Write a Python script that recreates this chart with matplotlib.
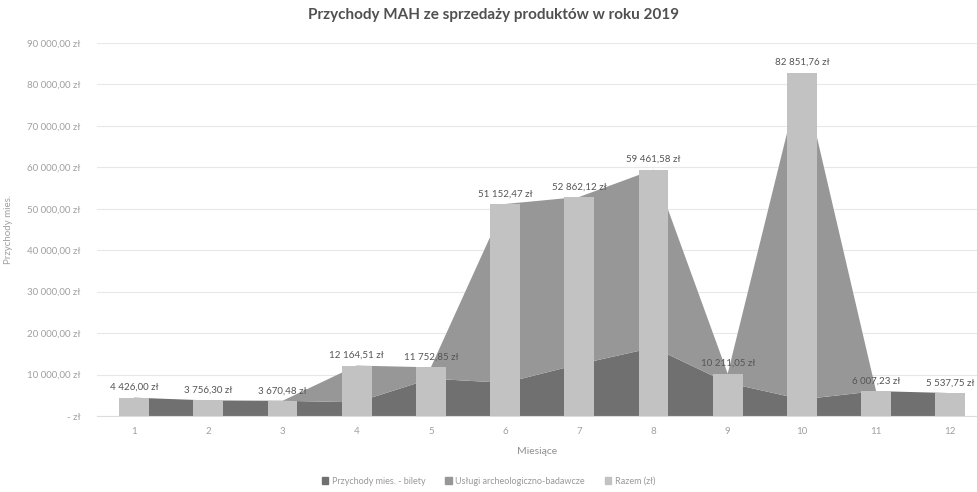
import matplotlib
matplotlib.use('Agg')
import matplotlib.pyplot as plt
import numpy as np

miesiace = [1, 2, 3, 4, 5, 6, 7, 8, 9, 10, 11, 12]
razem = [4426.00, 3756.30, 3670.48, 12164.51, 11752.85, 51152.47,
         52862.12, 59461.58, 10211.05, 82851.76, 6007.23, 5537.75]
bilety = [4426.00, 3756.30, 3670.48, 3300.00, 9000.00, 8000.00,
          12500.00, 16500.00, 8000.00, 4000.00, 6007.23, 5537.75]
uslugi = [r - b for r, b in zip(razem, bilety)]
y_ticks = [0, 10000, 20000, 30000, 40000, 50000, 60000, 70000, 80000, 90000]

plt.rcParams['font.family'] = ['Lato', 'DejaVu Sans']


def zl(v):
    if v == 0:
        return '- zł'
    s = '{:,.2f}'.format(v).replace(',', ' ').replace('.', ',')
    return s + ' zł'


fig = plt.figure(figsize=(9.77, 4.92), dpi=100)
ax = fig.add_axes([97 / 977, 76 / 492, 880 / 977, 373 / 492])

ax.stackplot(miesiace, bilety, uslugi, colors=['#707070', '#979797'],
             linewidth=0, zorder=2)
ax.bar(miesiace, razem, width=0.4, color='#c2c2c2', zorder=3)

for x, v in zip(miesiace, razem):
    ax.annotate(zl(v), (x, v), xytext=(0, 4), textcoords='offset points',
                ha='center', va='bottom', fontsize=7, color='#555555', zorder=4)

ax.set_xlim(0.5, 0.5 + 880 / 74.2)
ax.set_ylim(0, 90000)
ax.set_xticks(miesiace)
ax.set_yticks(y_ticks)
ax.set_yticklabels([zl(v) for v in y_ticks])
ax.tick_params(length=0, labelsize=7, colors='#a0a0a0')
ax.tick_params(axis='x', pad=8)
ax.tick_params(axis='y', pad=12)
ax.grid(axis='y', color='#e8e8e8', linewidth=0.8, zorder=0)
ax.set_axisbelow(True)
for s in ['top', 'right', 'left']:
    ax.spines[s].set_visible(False)
ax.spines['bottom'].set_color('#dcdcdc')

ax.set_xlabel('Miesiące', fontsize=7.5, color='#909090', labelpad=8)
ax.set_ylabel('Przychody mies.', fontsize=7, color='#a0a0a0', labelpad=10)
fig.text(0.505, 0.97, 'Przychody MAH ze sprzedaży produktów w roku 2019',
         ha='center', va='center', fontsize=11, fontweight='bold',
         color='#505050')

h = [plt.Rectangle((0, 0), 1, 1, color=c) for c in ['#707070', '#979797', '#c2c2c2']]
fig.legend(h, ['Przychody mies. - bilety', 'Usługi archeologiczno-badawcze', 'Razem (zł)'],
           loc='center', bbox_to_anchor=(0.5, 0.022), ncol=3, frameon=False,
           fontsize=6.5, labelcolor='#999999', handlelength=0.7, handleheight=0.7,
           handletextpad=0.4, columnspacing=2.2)

fig.savefig('out.png', dpi=100)
